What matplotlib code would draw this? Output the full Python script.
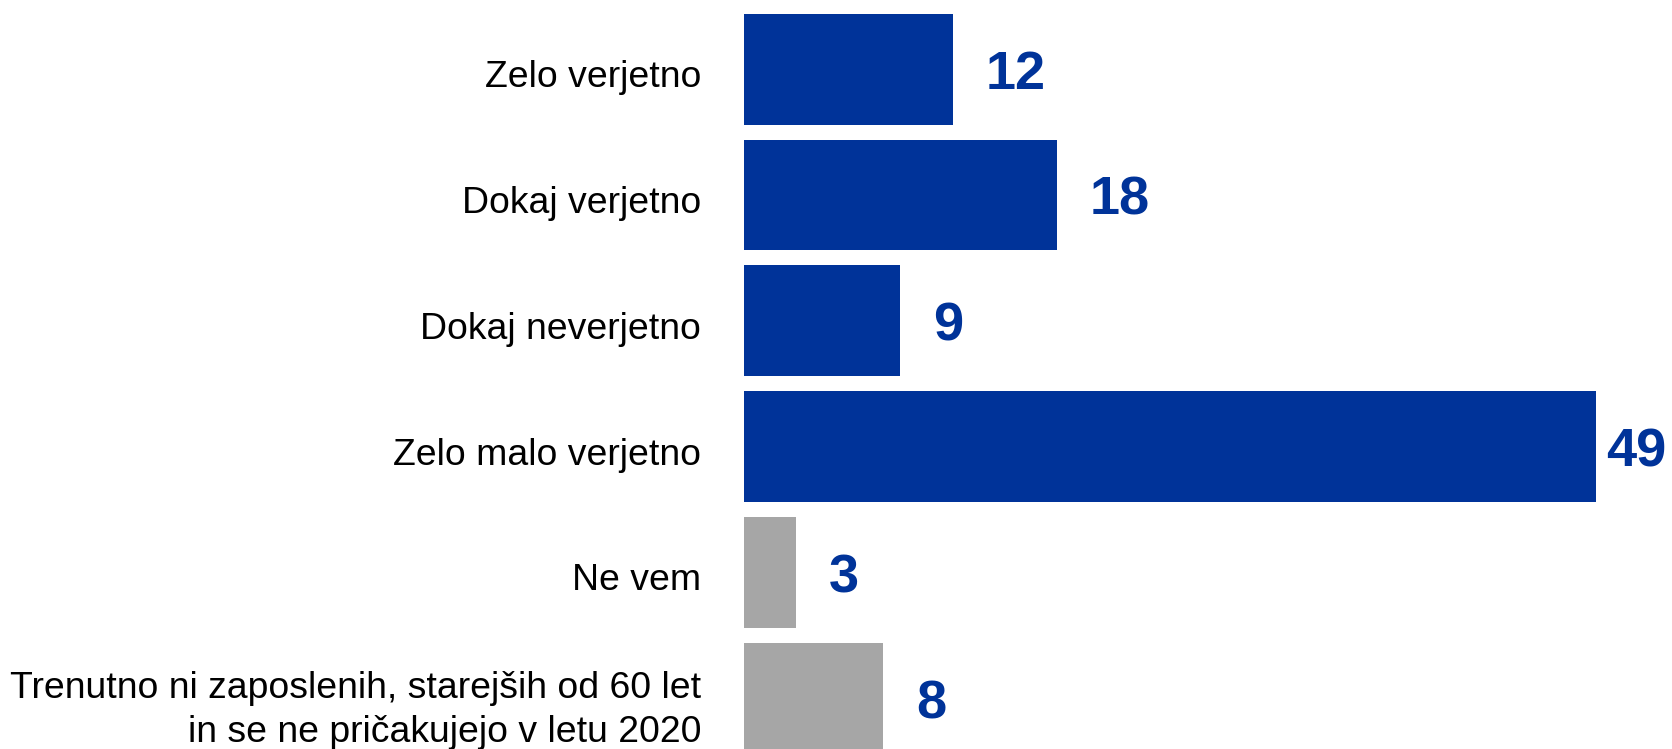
import matplotlib
matplotlib.use("Agg")
import matplotlib.pyplot as plt

categories = [
    "Zelo verjetno",
    "Dokaj verjetno",
    "Dokaj neverjetno",
    "Zelo malo verjetno",
    "Ne vem",
    "Trenutno ni zaposlenih, starejših od 60 let\nin se ne pričakujejo v letu 2020",
]
values = [12, 18, 9, 49, 3, 8]
bar_colors = ["#003399", "#003399", "#003399", "#003399", "#A6A6A6", "#A6A6A6"]
label_color = "#003399"

plt.rcParams["font.family"] = ["Liberation Sans", "DejaVu Sans"]

W, H, DPI = 1672, 749, 100
fig = plt.figure(figsize=(W / DPI, H / DPI), dpi=DPI)
ax = fig.add_axes([744 / W, 0, (1595.7 - 744) / W, 1])

y = list(range(len(categories)))
ax.barh(y, values, height=0.882, color=bar_colors, edgecolor="none")
ax.set_xlim(0, max(values))
ax.set_ylim(5.404, -0.55)
ax.set_yticks([])
ax.set_xticks([])
for s in ax.spines.values():
    s.set_visible(False)

# category labels (va='baseline' aligns the last line's baseline)
for yi, cat in zip(y, categories):
    n = cat.count("\n") + 1
    dy = -18 - (n - 1) * 26
    ax.annotate(cat, xy=(0, yi), xytext=(-43, dy), textcoords="offset pixels",
                ha="right", va="baseline", multialignment="right",
                fontsize=26.9, linespacing=1.34, color="black",
                annotation_clip=False)

fig.canvas.draw()
renderer = fig.canvas.get_renderer()
for yi, v in zip(y, values):
    t = ax.annotate(str(v), xy=(v, yi), xytext=(33, -20), textcoords="offset pixels",
                    ha="left", va="baseline", fontsize=39, fontweight="bold",
                    color=label_color, annotation_clip=False)
    bb = t.get_window_extent(renderer)
    if bb.x1 > W - 6:
        t.set_position((33 - (bb.x1 - (W - 6)), -20))

fig.savefig("out.png", dpi=DPI)
